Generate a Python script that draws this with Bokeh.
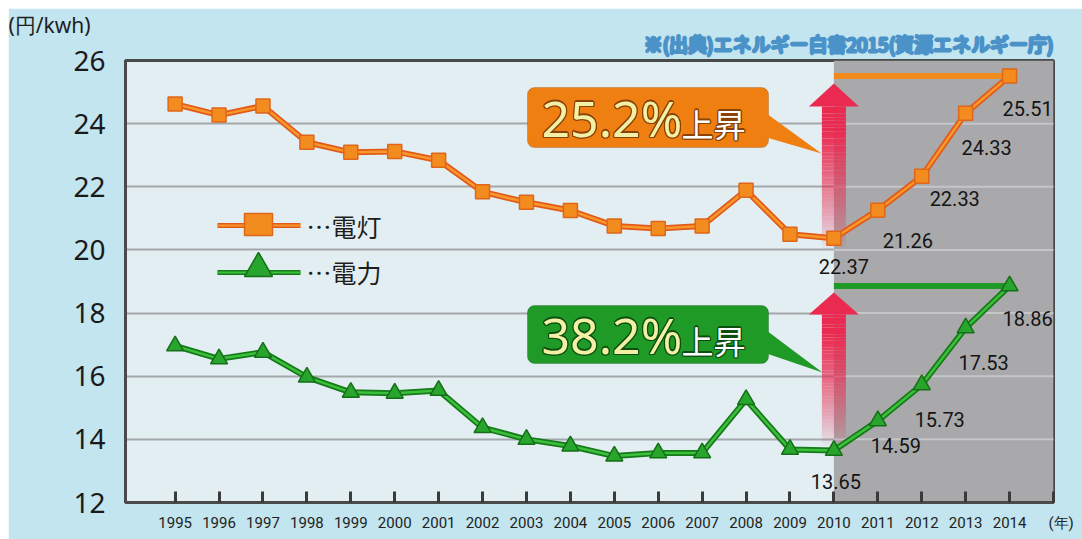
from bokeh.plotting import figure
from bokeh.models import Range1d, FixedTicker, Label, BoxAnnotation, Title
from bokeh.embed import file_html
from bokeh.resources import INLINE

# ---------------- data ----------------
years = list(range(1995, 2015))
lighting = [24.62, 24.27, 24.56, 23.41, 23.09, 23.12, 22.84, 21.84, 21.51, 21.25,
            20.76, 20.68, 20.76, 21.89, 20.50, 20.37, 21.26, 22.33, 24.33, 25.51]
power = [16.96, 16.55, 16.76, 15.97, 15.49, 15.46, 15.55, 14.37, 14.00, 13.79,
         13.47, 13.57, 13.57, 15.26, 13.68, 13.65, 14.59, 15.73, 17.53, 18.86]
label_years = [2010, 2011, 2012, 2013, 2014]
lighting_labels = ["22.37", "21.26", "22.33", "24.33", "25.51"]
power_labels = ["13.65", "14.59", "15.73", "17.53", "18.86"]
y_ticks = [12, 14, 16, 18, 20, 22, 24, 26]
series_names = ["…電灯", "…電力"]
rise_texts = ["25.2%", "38.2%"]
rise_word = "上昇"
unit_text = "(円/kwh)"
year_text = "\u2002\u2002(年)"
source_text = "※(出典)エネルギー白書2015(資源エネルギー庁)"
shade_start = 2010

# ---------------- layout ----------------
W, H = 1074, 531
FL, FR, FT, FB = 117, 29, 52, 37
FW, FH = W - FL - FR, H - FT - FB
X0, X1 = 1993.87, 2015
Y0, Y1 = 12, 26
PPX = FW / (X1 - X0)
PPY = FH / (Y1 - Y0)


def px2x(px):
    return X0 + (px - 8 - FL) / PPX


def py2y(py):
    return Y1 - (py - 8 - FT) / PPY


p = figure(width=W, height=H, output_backend="svg", toolbar_location=None,
           x_range=Range1d(X0, X1), y_range=Range1d(Y0, Y1),
           min_border_left=FL, min_border_right=FR, min_border_top=FT,
           min_border_bottom=FB, margin=(8, 0, 0, 8))
p.border_fill_color = "#c2e5ef"
p.background_fill_color = "#e2eef2"
p.outline_line_color = "#4a4a4a"
p.outline_line_width = 3

# axes
p.xaxis.ticker = FixedTicker(ticks=years + [X1])
p.xaxis.major_label_overrides = {X1: year_text}
p.xaxis.major_label_text_font = "Roboto"
p.xaxis.major_label_text_font_size = "15px"
p.xaxis.major_label_text_color = "#222222"
p.xaxis.major_label_standoff = 11
p.xaxis.major_tick_in = 11
p.xaxis.major_tick_out = 0
p.xaxis.major_tick_line_width = 3
p.xaxis.major_tick_line_color = "#3a3a3a"
p.xaxis.minor_tick_line_color = None
p.xaxis.axis_line_color = "#4a4a4a"
p.xaxis.axis_line_width = 3

p.yaxis.ticker = FixedTicker(ticks=y_ticks)
p.yaxis.major_label_text_font = "Noto Sans"
p.yaxis.major_label_text_font_size = "28px"
p.yaxis.major_label_text_color = "#1a1a1a"
p.yaxis.major_label_standoff = 14
p.yaxis.major_tick_line_color = None
p.yaxis.minor_tick_line_color = None
p.yaxis.axis_line_color = "#4a4a4a"
p.yaxis.axis_line_width = 3

p.xgrid.grid_line_color = None
p.ygrid.grid_line_color = "#a3a8ab"
p.ygrid.grid_line_width = 2

# titles above the frame (first one is nearest the frame)
src = Title(text=source_text, align="right", text_font="Noto Sans CJK JP",
            text_font_size="19px", text_color="#ffffff", text_font_style="normal",
            standoff=8)
try:
    src.text_outline_color = "#4a92c8"
except Exception:
    src.text_color = "#2f78ae"
p.add_layout(src, "above")
unit = Title(text=unit_text, align="left", offset=-FL, text_font="Noto Sans",
             text_font_size="21px", text_color="#1e1e1e", text_font_style="normal",
             standoff=-30)
p.add_layout(unit, "above")

# shaded region
p.add_layout(BoxAnnotation(left=shade_start, fill_color="#a9a9ab", fill_alpha=1.0,
                           line_color=None, level="underlay"))
inner_ticks = [t for t in y_ticks if Y0 < t < Y1]
p.segment(x0=[shade_start] * len(inner_ticks), y0=inner_ticks,
          x1=[X1] * len(inner_ticks), y1=inner_ticks,
          line_color="#c4c6c8", line_width=2)

# rise reference lines
p.segment(x0=[shade_start], y0=[lighting[-1]], x1=[years[-1]], y1=[lighting[-1]],
          line_color="#f08a1a", line_width=6)
p.segment(x0=[shade_start], y0=[power[-1]], x1=[years[-1]], y1=[power[-1]],
          line_color="#1f9a26", line_width=6)


# gradient arrows
def arrow(tip_py, base_py, bottom_py):
    xc = shade_start
    hw = 12 / PPX
    hh = 25 / PPX
    n = 40
    y_tip, y_base, y_bot = py2y(tip_py), py2y(base_py), py2y(bottom_py)
    bottoms, tops, alphas = [], [], []
    for i in range(n):
        b = y_bot + (y_base - y_bot) * i / n
        t = y_bot + (y_base - y_bot) * (i + 1) / n
        bottoms.append(b)
        tops.append(t)
        f = (i + 0.5) / n
        alphas.append(min(1.0, f ** 0.8 * 1.15))
    p.quad(left=[xc - hw] * n, right=[xc + hw] * n, bottom=bottoms, top=tops,
           fill_color="#ea2a50", fill_alpha=alphas, line_color=None)
    p.patch([xc - hh, xc, xc + hh], [y_base, y_tip, y_base],
            fill_color="#ea2a50", line_color=None)


arrow(83, 106, 248)
arrow(292, 314, 445)

# main lines
p.line(years, lighting, line_color="#e35a18", line_width=6)
p.line(years, lighting, line_color="#f7982c", line_width=2.5)
p.scatter(years, lighting, marker="square", size=14, fill_color="#f28c1e",
          line_color="#e0661a", line_width=1.5)
p.line(years, power, line_color="#157a18", line_width=6)
p.line(years, power, line_color="#3cc03c", line_width=2.5)
p.scatter(years, power, marker="triangle", size=17, fill_color="#27a52c",
          line_color="#176e19", line_width=1.5)

# value labels
light_off = [(10, 28), (30, 30), (33, 22), (21, 34), (18, 33)]
power_off = [(2, 31), (18, 25), (18, 35), (18, 35), (18, 33)]
for series, texts, offs in [(lighting, lighting_labels, light_off),
                            (power, power_labels, power_off)]:
    for yr, txt, (dxp, dyp) in zip(label_years, texts, offs):
        v = series[years.index(yr)]
        p.add_layout(Label(x=yr + dxp / PPX, y=v - dyp / PPY, text=txt,
                           text_font="Roboto", text_font_size="20px",
                           text_color="#141414", text_align="center",
                           text_baseline="middle"))


# callout boxes
def callout(top_py, bottom_py, tri_a, tri_b, tip, color, edge, rise, mid_py):
    p.add_layout(BoxAnnotation(left=px2x(527), right=px2x(768),
                               top=py2y(top_py), bottom=py2y(bottom_py),
                               fill_color=color, fill_alpha=1.0,
                               line_color=edge, line_width=1, border_radius=7))
    p.patch([px2x(766), px2x(766), px2x(tip[0])],
            [py2y(tri_a), py2y(tri_b), py2y(tip[1])],
            fill_color=color, line_color=None, level="overlay")
    offs = [(-1.2, 0), (1.2, 0), (0, -1.2), (0, 1.2), (-1, -1), (1, 1), (-1, 1), (1, -1)]
    for ox, oy in offs:
        p.add_layout(Label(x=px2x(541), y=py2y(mid_py), text=rise, x_offset=ox, y_offset=oy,
                           text_font="Noto Sans", text_font_size="50px",
                           text_color=edge, text_baseline="middle"))
        p.add_layout(Label(x=px2x(681), y=py2y(mid_py + 5), text=rise_word, x_offset=ox,
                           y_offset=oy, text_font="Noto Sans CJK JP",
                           text_font_size="32px", text_color=edge,
                           text_baseline="middle"))
    p.add_layout(Label(x=px2x(541), y=py2y(mid_py), text=rise,
                       text_font="Noto Sans", text_font_size="50px",
                       text_color="#f2f0a4", text_baseline="middle"))
    p.add_layout(Label(x=px2x(681), y=py2y(mid_py + 5), text=rise_word,
                       text_font="Noto Sans CJK JP", text_font_size="32px",
                       text_color="#ffffff", text_baseline="middle"))


callout(87, 147, 113, 137, (821, 153), "#f07f12", "#8a4206", rise_texts[0], 117)
callout(305, 363, 330, 353, (822, 372), "#1f9a26", "#0d4f10", rise_texts[1], 334)

# legend
for py, outer, inner in [(225, "#e35a18", "#f7982c"), (272, "#157a18", "#3cc03c")]:
    p.segment(x0=[px2x(217)], y0=[py2y(py)], x1=[px2x(300)], y1=[py2y(py)],
              line_color=outer, line_width=5)
    p.segment(x0=[px2x(217)], y0=[py2y(py)], x1=[px2x(300)], y1=[py2y(py)],
              line_color=inner, line_width=2)
p.rect(x=[px2x(258)], y=[py2y(224)], width=28, height=22, width_units="screen",
       height_units="screen", fill_color="#f28c1e", line_color="#e0661a", line_width=1.5)
p.scatter(x=[px2x(258)], y=[py2y(268)], marker="triangle", size=28,
          fill_color="#27a52c", line_color="#176e19", line_width=1.5)
for name, py in zip(series_names, [225, 271]):
    p.add_layout(Label(x=px2x(306), y=py2y(py), text=name, text_font="Noto Sans CJK JP",
                       text_font_size="25px", text_color="#1e1e1e",
                       text_baseline="middle"))

open("out.html", "w").write(file_html(p, INLINE))
